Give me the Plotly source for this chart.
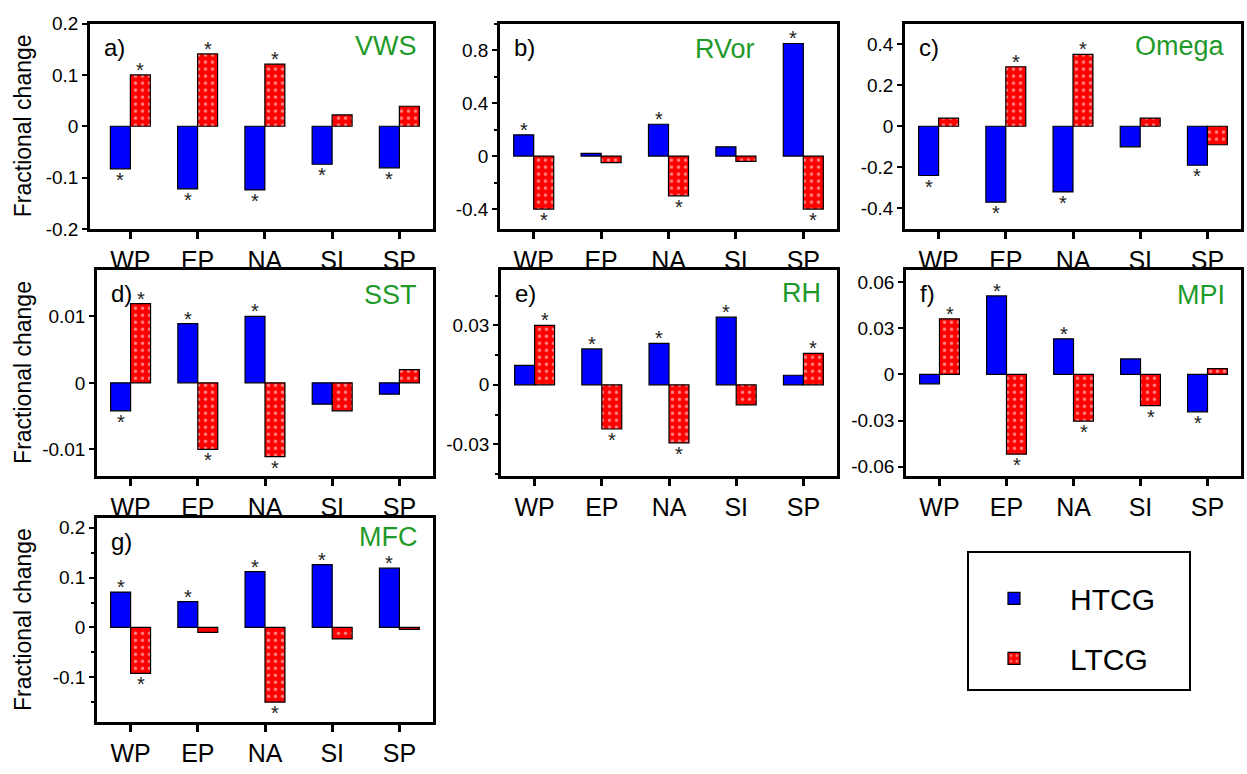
import plotly.graph_objects as go

# ---------------- data ----------------
categories = ["WP", "EP", "NA", "SI", "SP"]
series_names = ["HTCG", "LTCG"]
panel_letters = ["a)", "b)", "c)", "d)", "e)", "f)", "g)"]
panel_vars = ["VWS", "RVor", "Omega", "SST", "RH", "MPI", "MFC"]

vws_htcg = [-0.083, -0.122, -0.124, -0.074, -0.081]
vws_ltcg = [0.100, 0.141, 0.121, 0.022, 0.039]
vws_sig_htcg = [1, 1, 1, 1, 1]
vws_sig_ltcg = [1, 1, 1, 0, 0]

rvor_htcg = [0.16, 0.02, 0.24, 0.07, 0.85]
rvor_ltcg = [-0.40, -0.05, -0.30, -0.04, -0.40]
rvor_sig_htcg = [1, 0, 1, 0, 1]
rvor_sig_ltcg = [1, 0, 1, 0, 1]

omega_htcg = [-0.24, -0.37, -0.32, -0.10, -0.19]
omega_ltcg = [0.04, 0.29, 0.35, 0.04, -0.09]
omega_sig_htcg = [1, 1, 1, 0, 1]
omega_sig_ltcg = [0, 1, 1, 0, 0]

sst_htcg = [-0.0042, 0.0089, 0.0100, -0.0032, -0.0017]
sst_ltcg = [0.0119, -0.0100, -0.0111, -0.0042, 0.0020]
sst_sig_htcg = [1, 1, 1, 0, 0]
sst_sig_ltcg = [1, 1, 1, 0, 0]

rh_htcg = [0.0098, 0.0181, 0.0209, 0.0341, 0.0048]
rh_ltcg = [0.0300, -0.0223, -0.0293, -0.0101, 0.0158]
rh_sig_htcg = [0, 1, 1, 1, 0]
rh_sig_ltcg = [1, 1, 1, 0, 1]

mpi_htcg = [-0.0061, 0.0510, 0.0231, 0.0101, -0.0243]
mpi_ltcg = [0.0361, -0.0518, -0.0304, -0.0203, 0.0038]
mpi_sig_htcg = [0, 1, 1, 0, 1]
mpi_sig_ltcg = [1, 1, 1, 1, 0]

mfc_htcg = [0.071, 0.052, 0.112, 0.126, 0.119]
mfc_ltcg = [-0.092, -0.010, -0.150, -0.023, -0.004]
mfc_sig_htcg = [1, 1, 1, 1, 1]
mfc_sig_ltcg = [1, 0, 1, 0, 0]

# y tick values / labels per panel
yticks_vws = [-0.2, -0.1, 0, 0.1, 0.2]
ylabels_vws = ["-0.2", "-0.1", "0", "0.1", "0.2"]
yticks_rvor = [-0.4, 0, 0.4, 0.8]
ylabels_rvor = ["-0.4", "0", "0.4", "0.8"]
yticks_omega = [-0.4, -0.2, 0, 0.2, 0.4]
ylabels_omega = ["-0.4", "-0.2", "0", "0.2", "0.4"]
yticks_sst = [-0.01, 0, 0.01]
ylabels_sst = ["-0.01", "0", "0.01"]
yticks_rh = [-0.03, 0, 0.03]
ylabels_rh = ["-0.03", "0", "0.03"]
yticks_mpi = [-0.06, -0.03, 0, 0.03, 0.06]
ylabels_mpi = ["-0.06", "-0.03", "0", "0.03", "0.06"]
yticks_mfc = [-0.1, 0, 0.1, 0.2]
ylabels_mfc = ["-0.1", "0", "0.1", "0.2"]

# ---------------- layout / style ----------------
W, H = 1247, 774
FONT = "Liberation Sans, Arial, Helvetica, sans-serif"
BLUE = "#0000ff"
RED = "#ff0000"
GREEN = "#1f9a2a"

panels = [
    dict(h=vws_htcg, l=vws_ltcg, sh=vws_sig_htcg, sl=vws_sig_ltcg, tv=yticks_vws, tt=ylabels_vws,
         yr=[-0.2, 0.2], xr=[-0.6, 4.5], px=(90, 433), py=(14, 225), minor=None, vshift=(0, -22), title=True),
    dict(h=rvor_htcg, l=rvor_ltcg, sh=rvor_sig_htcg, sl=rvor_sig_ltcg, tv=yticks_rvor, tt=ylabels_rvor,
         yr=[-0.55, 1.0], xr=[-0.5, 4.5], px=(500, 837), py=(14, 225), minor=0.2, vshift=(-66, -25), title=False),
    dict(h=omega_htcg, l=omega_ltcg, sh=omega_sig_htcg, sl=omega_sig_ltcg, tv=yticks_omega, tt=ylabels_omega,
         yr=[-0.5, 0.5], xr=[-0.5, 4.5], px=(905, 1241), py=(14, 225), minor=None, vshift=(0, -22), title=False),
    dict(h=sst_htcg, l=sst_ltcg, sh=sst_sig_htcg, sl=sst_sig_ltcg, tv=yticks_sst, tt=ylabels_sst,
         yr=[-0.014, 0.017], xr=[-0.5, 4.5], px=(97, 433), py=(267, 479), minor=None, vshift=(0, -25), title=True),
    dict(h=rh_htcg, l=rh_ltcg, sh=rh_sig_htcg, sl=rh_sig_ltcg, tv=yticks_rh, tt=ylabels_rh,
         yr=[-0.046, 0.058], xr=[-0.5, 4.5], px=(501, 837), py=(267, 479), minor=0.015, vshift=(0, -23), title=False),
    dict(h=mpi_htcg, l=mpi_ltcg, sh=mpi_sig_htcg, sl=mpi_sig_ltcg, tv=yticks_mpi, tt=ylabels_mpi,
         yr=[-0.066, 0.068], xr=[-0.5, 4.5], px=(906, 1241), py=(267, 479), minor=None, vshift=(0, -25), title=False),
    dict(h=mfc_htcg, l=mfc_ltcg, sh=mfc_sig_htcg, sl=mfc_sig_ltcg, tv=yticks_mfc, tt=ylabels_mfc,
         yr=[-0.19, 0.22], xr=[-0.5, 4.5], px=(97, 433), py=(522, 732), minor=0.05, vshift=(0, -19), title=True),
]

fig = go.Figure()
annotations = []

for k, p in enumerate(panels):
    n = k + 1
    xa = "x" if n == 1 else f"x{n}"
    ya = "y" if n == 1 else f"y{n}"
    fig.add_trace(go.Bar(
        x=categories, y=p["h"], name=series_names[0], xaxis=xa, yaxis=ya,
        marker=dict(color=BLUE, line=dict(color="black", width=1.2)),
        showlegend=(n == 1), legendgroup="h",
    ))
    fig.add_trace(go.Bar(
        x=categories, y=p["l"], name=series_names[1], xaxis=xa, yaxis=ya,
        marker=dict(color=RED, line=dict(color="black", width=1.2),
                    pattern=dict(shape=".", fgcolor="white", size=7, solidity=0.2, fillmode="overlay")),
        showlegend=(n == 1), legendgroup="l",
    ))
    xd = [p["px"][0] / W, p["px"][1] / W]
    yd = [1 - p["py"][1] / H, 1 - p["py"][0] / H]
    xkey = "xaxis" if n == 1 else f"xaxis{n}"
    ykey = "yaxis" if n == 1 else f"yaxis{n}"
    fig.update_layout(**{
        xkey: dict(domain=xd, anchor=ya, range=p["xr"], type="category",
                   showline=True, mirror=True, linecolor="black", linewidth=2.5,
                   ticks="outside", ticklen=7, tickwidth=3, tickcolor="black",
                   showgrid=False, zeroline=False,
                   tickfont=dict(family=FONT, size=25, color="black")),
        ykey: dict(domain=yd, anchor=xa, range=p["yr"],
                   tickmode="array", tickvals=p["tv"], ticktext=p["tt"],
                   showline=True, mirror=True, linecolor="black", linewidth=2.5,
                   ticks="outside", ticklen=5, tickwidth=2, tickcolor="black",
                   showgrid=False, zeroline=False,
                   tickfont=dict(family=FONT, size=19, color="black"),
                   minor=(dict(tickmode="linear", tick0=0, dtick=p["minor"], ticks="outside",
                               ticklen=3, tickwidth=1.5, tickcolor="black", showgrid=False)
                          if p["minor"] else dict(ticks=""))),
    })
    # panel letter
    annotations.append(dict(xref=f"{xa} domain", yref=f"{ya} domain", x=0, y=1,
                            xanchor="left", yanchor="top", xshift=12, yshift=-8,
                            text=panel_letters[k], showarrow=False,
                            font=dict(family=FONT, size=24, color="black")))
    # variable label
    annotations.append(dict(xref=f"{xa} domain", yref=f"{ya} domain", x=1, y=1,
                            xanchor="right", yanchor="middle",
                            xshift=-14 + p["vshift"][0], yshift=p["vshift"][1],
                            text=panel_vars[k], showarrow=False,
                            font=dict(family=FONT, size=27, color=GREEN)))
    if p["title"]:
        annotations.append(dict(xref="paper", yref="paper", x=23 / W, y=(yd[0] + yd[1]) / 2,
                                xanchor="center", yanchor="middle", textangle=-90,
                                text="Fractional change", showarrow=False,
                                font=dict(family=FONT, size=23, color="black")))
    # significance stars
    for vals, sig, dx in ((p["h"], p["sh"], -10), (p["l"], p["sl"], 10)):
        for c, v, s in zip(categories, vals, sig):
            if s:
                annotations.append(dict(xref=xa, yref=ya, x=c, y=v, text="*", showarrow=False,
                                        xanchor="center", yanchor="middle",
                                        xshift=dx, yshift=(5 if v > 0 else -11),
                                        font=dict(family=FONT, size=20, color="#222222")))

fig.update_layout(
    width=W, height=H,
    margin=dict(l=0, r=0, t=0, b=0),
    paper_bgcolor="white", plot_bgcolor="white",
    barmode="group", bargap=0.406, bargroupgap=0,
    annotations=annotations,
    showlegend=True,
    legend=dict(x=958 / W, y=1 - 578 / H, xanchor="left", yanchor="top",
                bgcolor="rgba(0,0,0,0)", borderwidth=0, tracegroupgap=18,
                itemwidth=102, font=dict(family=FONT, size=30, color="black")),
    shapes=[dict(type="rect", xref="paper", yref="paper",
                 x0=968 / W, x1=1190 / W, y0=1 - 699 / H, y1=1 - 557 / H,
                 line=dict(color="black", width=2))],
    font=dict(family=FONT),
)

fig.write_html("out.html")
